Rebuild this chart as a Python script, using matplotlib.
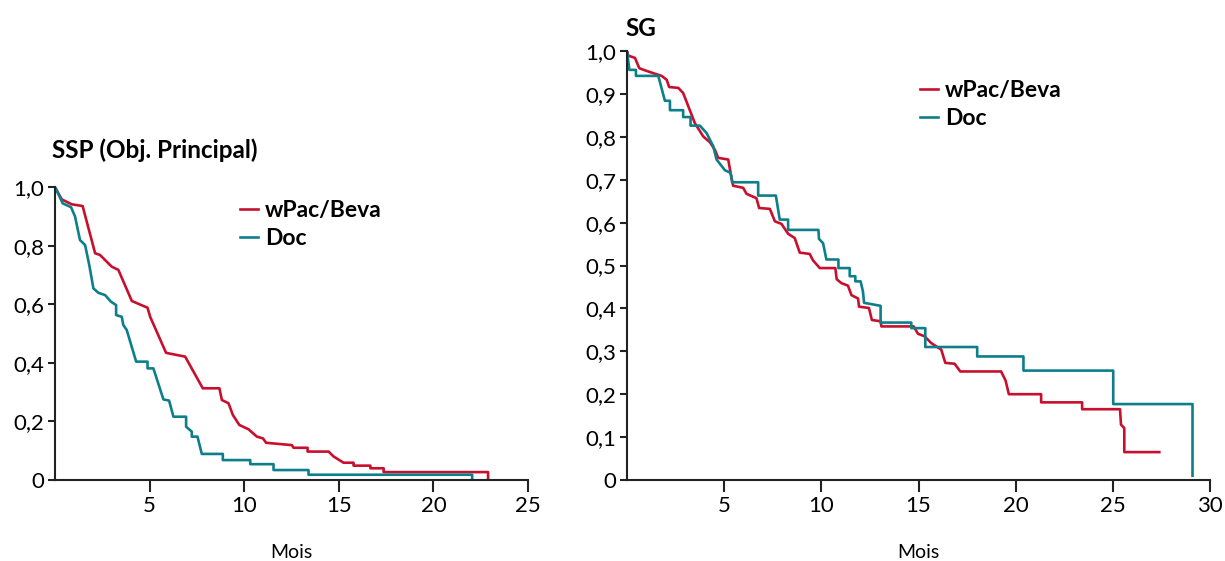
import matplotlib
matplotlib.use("Agg")
import matplotlib.pyplot as plt

# SSP (objectif principal) - courbes
ssp_beva_t = [0, 0.35, 0.88, 1.46, 2.12, 2.38, 3.0, 3.35, 4.06, 4.89, 5.03, 5.87, 6.88, 7.81,
              8.69, 8.82, 9.17, 9.40, 9.74, 10.23, 10.67, 10.99, 11.16, 12.52, 12.61, 13.35,
              13.35, 14.46, 14.73, 15.25, 15.78, 15.78, 16.67, 16.67, 17.37, 17.37, 22.89, 22.89]
ssp_beva_s = [1.0, 0.958, 0.941, 0.935, 0.774, 0.768, 0.728, 0.717, 0.611, 0.588, 0.557, 0.434,
              0.421, 0.313, 0.313, 0.273, 0.262, 0.222, 0.188, 0.173, 0.148, 0.142, 0.127, 0.119,
              0.110, 0.110, 0.097, 0.097, 0.080, 0.059, 0.059, 0.049, 0.049, 0.040, 0.040, 0.027,
              0.027, 0.0]

ssp_doc_t = [0, 0.41, 0.85, 1.06, 1.32, 1.59, 1.81, 2.03, 2.29, 2.65, 2.95, 3.23, 3.23, 3.53,
             3.61, 3.79, 4.29, 4.89, 4.89, 5.2, 5.73, 6.03, 6.26, 6.93, 6.93, 7.23, 7.23, 7.53,
             7.76, 8.87, 8.87, 10.32, 10.32, 11.55, 11.55, 13.4, 13.4, 22.05, 22.05]
ssp_doc_s = [1.0, 0.944, 0.931, 0.899, 0.819, 0.802, 0.734, 0.654, 0.639, 0.631, 0.609, 0.597,
             0.563, 0.557, 0.529, 0.512, 0.404, 0.404, 0.381, 0.381, 0.275, 0.271, 0.216, 0.216,
             0.182, 0.165, 0.148, 0.148, 0.089, 0.089, 0.068, 0.068, 0.054, 0.054, 0.034, 0.034,
             0.018, 0.018, 0.0]

# SG
sg_beva_t = [0, 0.07, 0.41, 0.63, 0.92, 1.44, 1.78, 2.04, 2.17, 2.64, 2.89, 3.49, 3.92, 4.27,
             4.52, 4.69, 5.21, 5.33, 5.46, 5.98, 6.15, 6.66, 6.80, 7.35, 7.61, 7.95, 8.29, 8.63,
             8.89, 9.40, 9.57, 9.92, 10.72, 10.79, 11.03, 11.37, 11.55, 11.89, 11.94, 12.45,
             12.60, 13.05, 13.09, 14.75, 14.97, 15.31, 15.66, 16.17, 16.38, 16.86, 17.15, 19.25,
             19.48, 19.65, 21.31, 21.31, 23.42, 23.42, 25.37, 25.42, 25.59, 25.59, 27.39]
sg_beva_s = [1.0, 0.989, 0.984, 0.960, 0.955, 0.947, 0.942, 0.933, 0.916, 0.914, 0.902, 0.832,
             0.801, 0.787, 0.770, 0.751, 0.747, 0.716, 0.686, 0.681, 0.667, 0.657, 0.634, 0.632,
             0.603, 0.597, 0.574, 0.564, 0.530, 0.527, 0.512, 0.494, 0.494, 0.468, 0.459, 0.453,
             0.431, 0.423, 0.404, 0.401, 0.373, 0.370, 0.358, 0.358, 0.341, 0.335, 0.319, 0.304,
             0.273, 0.271, 0.253, 0.253, 0.232, 0.200, 0.200, 0.181, 0.181, 0.165, 0.165, 0.129,
             0.121, 0.065, 0.065]

sg_doc_t = [0, 0.12, 0.46, 0.46, 1.61, 1.95, 2.21, 2.21, 2.89, 2.89, 3.27, 3.27, 3.75, 4.09,
            4.43, 4.61, 5.04, 5.33, 5.41, 6.75, 6.75, 7.66, 7.86, 8.29, 8.29, 9.85, 9.88, 10.09,
            10.26, 10.88, 10.88, 11.46, 11.46, 11.75, 11.75, 12.02, 12.14, 12.20, 13.05, 13.05,
            14.63, 14.63, 15.35, 15.35, 18.02, 18.02, 20.4, 20.4, 25.02, 25.02, 29.1, 29.1]
sg_doc_s = [1.0, 0.956, 0.956, 0.942, 0.942, 0.884, 0.884, 0.862, 0.862, 0.846, 0.846, 0.826,
            0.826, 0.809, 0.779, 0.747, 0.722, 0.716, 0.694, 0.694, 0.663, 0.663, 0.607, 0.607,
            0.583, 0.583, 0.562, 0.552, 0.514, 0.514, 0.494, 0.494, 0.475, 0.475, 0.463, 0.463,
            0.440, 0.413, 0.406, 0.367, 0.367, 0.354, 0.354, 0.310, 0.310, 0.288, 0.288, 0.255,
            0.255, 0.177, 0.177, 0.01]

RED = "#c8102e"
TEAL = "#0e7f8a"
FONT = "Lato"

plt.rcParams["font.family"] = [FONT, "DejaVu Sans"]


def style_axis(ax, xmax, xticks, yticks, ylabels):
    ax.spines["top"].set_visible(False)
    ax.spines["right"].set_visible(False)
    for side in ("left", "bottom"):
        ax.spines[side].set_linewidth(1.5)
        ax.spines[side].set_color("#222222")
    ax.set_xlim(0, xmax)
    ax.set_ylim(0, 1.0)
    ax.set_xticks(xticks)
    ax.set_xticklabels([str(t) for t in xticks])
    ax.set_yticks(yticks)
    ax.set_yticklabels(ylabels)
    ax.tick_params(axis="x", length=8.5, width=1.5, pad=3, labelsize=16, color="#222222")
    ax.tick_params(axis="y", length=5, width=1.5, pad=3, labelsize=16, color="#222222")
    ax.set_xlabel("Mois", fontsize=14, labelpad=20)


fig = plt.figure(figsize=(12.25, 5.61), dpi=100)
W, H = 1225, 561
legend_font = {"family": FONT, "weight": "bold", "size": 16.5}

ax1 = fig.add_axes([55 / W, 1 - 480 / H, (528 - 55) / W, (480 - 187) / H])
ax1.plot(ssp_beva_t, ssp_beva_s, color=RED, lw=1.9, label="wPac/Beva")
ax1.plot(ssp_doc_t, ssp_doc_s, color=TEAL, lw=1.9, label="Doc")
style_axis(ax1, 25, [5, 10, 15, 20, 25], [0, 0.2, 0.4, 0.6, 0.8, 1.0],
           ["0", "0,2", "0,4", "0,6", "0,8", "1,0"])
ax1.legend(loc="upper left", bbox_to_anchor=(240 / W, 1 - 200 / H), bbox_transform=fig.transFigure,
           frameon=False, borderpad=0, borderaxespad=0, handlelength=0.8, handletextpad=0.3,
           labelspacing=0.3, prop=legend_font)

ax2 = fig.add_axes([627 / W, 1 - 480 / H, (1210 - 627) / W, (480 - 51) / H])
ax2.plot(sg_beva_t, sg_beva_s, color=RED, lw=1.9, label="wPac/Beva")
ax2.plot(sg_doc_t, sg_doc_s, color=TEAL, lw=1.9, label="Doc")
style_axis(ax2, 30, [5, 10, 15, 20, 25, 30], [i / 10 for i in range(11)],
           ["0"] + [f"0,{i}" for i in range(1, 10)] + ["1,0"])
ax2.legend(loc="upper left", bbox_to_anchor=(920 / W, 1 - 80 / H), bbox_transform=fig.transFigure,
           frameon=False, borderpad=0, borderaxespad=0, handlelength=0.8, handletextpad=0.3,
           labelspacing=0.3, prop=legend_font)

fig.text(52 / W, 1 - 150 / H, "SSP (Obj. Principal)", fontsize=17.5, fontweight="bold",
         ha="left", va="center")
fig.text(625 / W, 1 - 28 / H, "SG", fontsize=17.5, fontweight="bold", ha="left", va="center")

fig.savefig("out.png", dpi=100)
